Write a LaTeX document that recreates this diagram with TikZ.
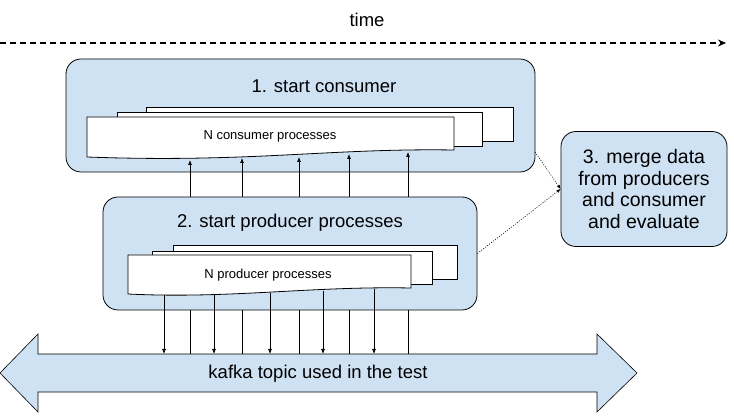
\documentclass[tikz,border=0pt]{standalone}
\usepackage{fontspec}
\setmainfont{Liberation Sans}
\usetikzlibrary{arrows.meta}
\definecolor{paleblue}{HTML}{CFE2F3}
\tikzstyle{stage}=[draw, fill=paleblue, rounded corners=15pt, line width=0.8pt]
\tikzstyle{band}=[draw, fill=paleblue, line width=0.6pt]
\tikzstyle{sheet}=[draw, fill=white, line width=0.8pt]
\tikzstyle{flow}=[-{Latex[length=5pt,width=4pt]}, line width=0.7pt]
\tikzstyle{hint}=[dash pattern=on 1pt off 1.5pt, line width=0.6pt, -{Latex[length=4pt,width=3.5pt]}]
\tikzstyle{titletext}=[font=\fontsize{18.5}{22}\selectfont]
\tikzstyle{doctext}=[font=\fontsize{13}{15}\selectfont]

\begin{document}
\begin{tikzpicture}[x=1pt, y=-1pt]
          \useasboundingbox (0,0) rectangle (734,419);

          % time axis
          \node[titletext] at (367, 20) (time) {time};
          \coordinate (t0) at (0, 43);
          \coordinate (t1) at (726, 43);
          \draw[line width=1.2pt, dash pattern=on 6pt off 4pt, -{Stealth[length=8pt,width=7pt]}] (t0) -- (t1);

          % kafka topic
          \draw[band] (0,373) -- (38,334) -- (38,354) -- (597,354) -- (597,334) -- (637,373)
            -- (597,412) -- (597,392) -- (38,392) -- (38,412) -- cycle;
          \node[titletext] at (318, 374) (kafka) {kafka topic used in the test};

          % consumer
          \node[stage, minimum width=469pt, minimum height=113pt] at (300.5, 115.5) (cons) {};
          \node[titletext] at (324, 86) (constitle) {1. start consumer};
          \draw[sheet] (146,107) rectangle (513,141);
          \draw[sheet] (117,112) rectangle (482,146);
          \draw[sheet] (87,117) -- (454,117) -- (454,150) .. controls (330,148) and (250,163) .. (87,157) -- cycle;
          \node[doctext] at (270, 136.5) (consdoc) {N consumer processes};

          \foreach \n/\x/\y in {1/190/160, 2/242/158, 3/299/157, 4/349/154, 5/408/152} {
            \coordinate (kc\n) at (\x, 354);
            \coordinate (ct\n) at (\x, \y);
            \draw[flow] (kc\n) -- (ct\n);
          }

          % producer
          \node[stage, minimum width=374pt, minimum height=113pt] at (290, 253.5) (prod) {};
          \node[titletext] at (290, 223) (prodtitle) {2. start producer processes};
          \draw[sheet] (173,245) rectangle (457,279);
          \draw[sheet] (152,251) rectangle (432,284);
          \draw[sheet] (128,255) -- (411,255) -- (411,288) .. controls (310,286) and (230,299) .. (128,294) -- cycle;
          \node[doctext] at (268, 275) (proddoc) {N producer processes};

          \foreach \n/\x/\y in {1/164/295, 2/214/295, 3/270/293, 4/323/291, 5/374/289} {
            \coordinate (ps\n) at (\x, \y);
            \coordinate (kp\n) at (\x, 354);
            \draw[flow] (ps\n) -- (kp\n);
          }

          % merge
          \node[stage, align=center, font=\fontsize{19.5}{21.5}\selectfont, minimum width=166pt, minimum height=115pt]
            at (644, 189) (merge) {3. merge data\\from producers\\and consumer\\and evaluate};

          \coordinate (cend) at (535, 152);
          \draw[hint] (cend) -- (merge.west);
          \draw[hint] (prod.east) -- (merge.west);
        \end{tikzpicture}
\end{document}
